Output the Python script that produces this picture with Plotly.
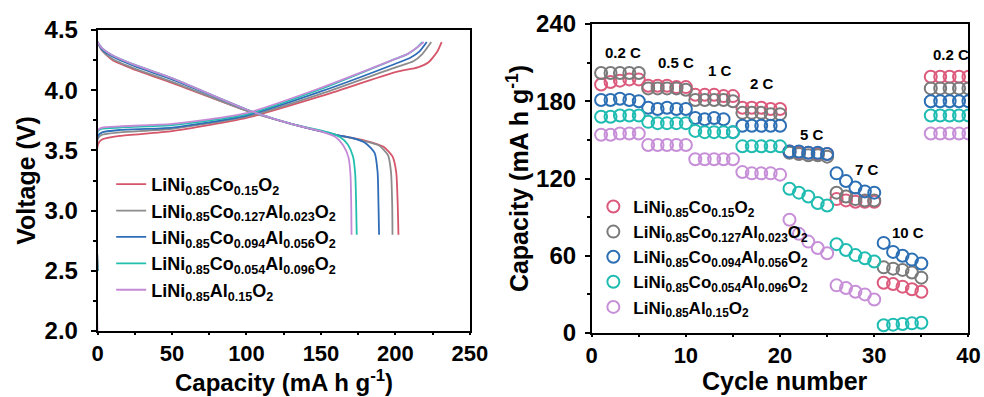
import plotly.graph_objects as go

# ---------------- data ----------------
names = [
    "LiNi<sub>0.85</sub>Co<sub>0.15</sub>O<sub>2</sub>",
    "LiNi<sub>0.85</sub>Co<sub>0.127</sub>Al<sub>0.023</sub>O<sub>2</sub>",
    "LiNi<sub>0.85</sub>Co<sub>0.094</sub>Al<sub>0.056</sub>O<sub>2</sub>",
    "LiNi<sub>0.85</sub>Co<sub>0.054</sub>Al<sub>0.096</sub>O<sub>2</sub>",
    "LiNi<sub>0.85</sub>Al<sub>0.15</sub>O<sub>2</sub>",
]
line_colors = ["#d5566a", "#8c8c8c", "#2f6db8", "#22bfae", "#c48ad6"]
marker_colors = ["#dc5a7c", "#7a7a7a", "#2c6fb4", "#1fbcb2", "#c78fd8"]

# charge curves (capacity, voltage)
charge_cap_red = [0, 0.3, 3, 15, 50, 100, 150, 200, 215, 222, 228, 231]
charge_v_red = [2.5, 3.55, 3.59, 3.62, 3.66, 3.77, 3.95, 4.15, 4.19, 4.23, 4.32, 4.40]
charge_cap_gray = [0, 0.3, 3, 15, 50, 100, 150, 200, 212, 218, 224]
charge_v_gray = [2.5, 3.60, 3.63, 3.65, 3.68, 3.78, 3.97, 4.19, 4.24, 4.30, 4.40]
charge_cap_blue = [0, 0.3, 3, 15, 50, 100, 150, 200, 210, 216, 221]
charge_v_blue = [2.5, 3.62, 3.65, 3.67, 3.69, 3.79, 3.99, 4.22, 4.27, 4.32, 4.40]
charge_cap_cyan = [0, 0.3, 3, 15, 50, 100, 150, 200, 208, 214, 218]
charge_v_cyan = [2.5, 3.66, 3.68, 3.69, 3.71, 3.80, 4.01, 4.26, 4.30, 4.35, 4.40]
charge_cap_purple = [0, 0.3, 3, 15, 50, 100, 150, 200, 208, 214, 219]
charge_v_purple = [2.0, 3.67, 3.69, 3.70, 3.72, 3.81, 4.02, 4.26, 4.30, 4.35, 4.40]

# discharge curves
dis_cap_red = [0, 3, 10, 25, 50, 100, 130, 160, 180, 192, 198, 200.5, 201.5, 202]
dis_v_red = [4.4, 4.33, 4.25, 4.17, 4.06, 3.83, 3.72, 3.63, 3.58, 3.53, 3.45, 3.32, 3.05, 2.8]
dis_cap_gray = [0, 3, 10, 25, 50, 100, 130, 160, 178, 189, 195, 197, 197.8, 198]
dis_v_gray = [4.4, 4.33, 4.26, 4.18, 4.07, 3.83, 3.72, 3.63, 3.58, 3.54, 3.46, 3.32, 3.05, 2.8]
dis_cap_blue = [0, 3, 10, 25, 50, 100, 130, 160, 172, 180, 186, 188, 188.6, 189]
dis_v_blue = [4.4, 4.34, 4.28, 4.20, 4.09, 3.84, 3.72, 3.63, 3.60, 3.56, 3.48, 3.32, 3.05, 2.8]
dis_cap_cyan = [0, 3, 10, 25, 50, 100, 130, 155, 163, 168, 171.5, 173, 173.6, 174]
dis_v_cyan = [4.4, 4.35, 4.29, 4.21, 4.10, 3.84, 3.72, 3.65, 3.61, 3.55, 3.45, 3.30, 3.05, 2.8]
dis_cap_purple = [0, 3, 10, 25, 50, 100, 130, 152, 160, 165, 168.5, 169.8, 170.3, 170.5]
dis_v_purple = [4.4, 4.35, 4.29, 4.21, 4.10, 3.84, 3.72, 3.65, 3.61, 3.54, 3.44, 3.30, 3.05, 2.8]

# rate capability
cycles = list(range(1, 41))
rate_red = [193, 195, 196, 197, 197, 192, 192, 192, 191, 191, 185, 185, 185, 184, 184,
            175, 175, 175, 174, 174, 141, 140, 140, 139, 139, 104, 103, 102, 102, 102,
            39, 38, 36, 34, 32, 199, 199, 199, 199, 199]
rate_gray = [202, 202, 202, 202, 202, 190, 190, 190, 190, 189, 181, 181, 181, 181, 180,
             171, 171, 171, 170, 170, 140, 139, 138, 138, 137, 109, 106, 104, 103, 103,
             51, 50, 49, 47, 43, 190, 190, 190, 190, 190]
rate_blue = [181, 181, 182, 181, 180, 175, 174, 175, 174, 174, 167, 166, 167, 166, 156,
             161, 161, 161, 161, 161, 141, 141, 140, 140, 139, 124, 118, 113, 110, 109,
             70, 63, 60, 57, 54, 180, 180, 180, 180, 180]
rate_cyan = [168, 168, 169, 169, 169, 164, 163, 163, 163, 163, 157, 156, 156, 156, 156,
             145, 145, 145, 145, 145, 112, 109, 106, 101, 99, 69, 64.5, 60.5, 58, 55.5,
             6, 6.5, 7, 7.5, 8, 169, 169, 169, 169, 169]
rate_purple = [154, 154, 155, 155, 155, 146, 146, 146, 146, 146, 135, 135, 135, 135, 135,
               125, 124, 124, 124, 123, 88, 77, 71, 66, 62, 37, 35, 32, 30, 26,
               None, None, None, None, None, 155, 155, 155, 155, 155]

rate_labels = ["0.2 C", "0.5 C", "1 C", "2 C", "5 C", "7 C", "10 C", "0.2 C"]
rate_label_x = [3.3, 8.9, 13.6, 18.1, 23.4, 29.2, 33.6, 38.2]
rate_label_y = [218, 210, 204, 194, 154, 127, 78, 216]

x_title_left = "Capacity (mA h g<sup>-1</sup>)"
x_title_right = "Cycle number"

charge_caps = [charge_cap_red, charge_cap_gray, charge_cap_blue, charge_cap_cyan, charge_cap_purple]
charge_vs = [charge_v_red, charge_v_gray, charge_v_blue, charge_v_cyan, charge_v_purple]
dis_caps = [dis_cap_red, dis_cap_gray, dis_cap_blue, dis_cap_cyan, dis_cap_purple]
dis_vs = [dis_v_red, dis_v_gray, dis_v_blue, dis_v_cyan, dis_v_purple]
rates = [rate_red, rate_gray, rate_blue, rate_cyan, rate_purple]

FONT = "Liberation Sans, Arial, sans-serif"

fig = go.Figure()

for i in range(5):
    fig.add_trace(go.Scatter(
        x=charge_caps[i], y=charge_vs[i], mode="lines", name=names[i],
        line=dict(color=line_colors[i], width=1.8, shape="spline", smoothing=0.6),
        xaxis="x", yaxis="y", legend="legend", legendgroup=f"l{i}", showlegend=True))
    fig.add_trace(go.Scatter(
        x=dis_caps[i], y=dis_vs[i], mode="lines", name=names[i],
        line=dict(color=line_colors[i], width=1.8, shape="spline", smoothing=0.6),
        xaxis="x", yaxis="y", legendgroup=f"l{i}", showlegend=False))

for i in range(5):
    fig.add_trace(go.Scatter(
        x=cycles, y=rates[i], mode="markers", name=names[i],
        marker=dict(symbol="circle-open", size=12, color=marker_colors[i],
                    line=dict(width=2, color=marker_colors[i])),
        xaxis="x2", yaxis="y2", legend="legend2", showlegend=True))

for t, xx, yy in zip(rate_labels, rate_label_x, rate_label_y):
    fig.add_annotation(x=xx, y=yy, xref="x2", yref="y2", text=t, showarrow=False,
                       font=dict(family=FONT, size=15, color="black", weight="bold"))

title_font = dict(family=FONT, size=25, color="black", weight="bold")
title_font_left_x = dict(family=FONT, size=24, color="black", weight="bold")

# x-axis titles placed as paper annotations centred under each panel
fig.add_annotation(x=0.2884, y=0, xref="paper", yref="paper", xanchor="center", yanchor="bottom",
                   yshift=-1, text=x_title_left, showarrow=False, font=title_font_left_x)
fig.add_annotation(x=0.7978, y=0, xref="paper", yref="paper", xanchor="center", yanchor="bottom",
                   text=x_title_right, showarrow=False, font=title_font)

axis_common = dict(showline=True, linecolor="black", linewidth=1.6, mirror=True,
                   ticks="outside", tickwidth=1.6, tickcolor="black",
                   showgrid=False, zeroline=False, automargin=False)
tick_font_y = dict(family=FONT, size=24, color="black", weight="bold")
tick_font_x = dict(family=FONT, size=22, color="black", weight="bold")

fig.update_layout(
    width=984, height=397,
    margin=dict(l=0, r=0, t=0, b=0),
    paper_bgcolor="white", plot_bgcolor="white",
    xaxis=dict(domain=[0.0991, 0.4776], range=[0, 250], dtick=50, anchor="y", ticklen=2,
               minor=dict(dtick=25, ticks="outside", ticklen=2, tickcolor="black", showgrid=False),
               ticklabelstandoff=0, tickfont=tick_font_x,
               **axis_common),
    yaxis=dict(domain=[0.1662, 0.9244], range=[2.0, 4.5], dtick=0.5, tickformat=".1f",
               anchor="x", ticklen=5,
               minor=dict(dtick=0.25, ticks="outside", ticklen=3, tickcolor="black", showgrid=False),
               title=dict(text="Voltage (V)", font=title_font, standoff=2),
               ticklabelstandoff=8, tickfont=tick_font_y,
               **axis_common),
    xaxis2=dict(domain=[0.6013, 0.9842], range=[0, 40], dtick=10, anchor="y2", ticklen=2,
                minor=dict(dtick=5, ticks="outside", ticklen=2, tickcolor="black", showgrid=False),
                ticklabelstandoff=0, tickfont=tick_font_x,
                **axis_common),
    yaxis2=dict(domain=[0.1612, 0.9395], range=[0, 240], dtick=60, anchor="x2", ticklen=5,
                minor=dict(dtick=30, ticks="outside", ticklen=3, tickcolor="black", showgrid=False),
                title=dict(text="Capacity (mA h g<sup>-1</sup>)", font=title_font, standoff=0),
                ticklabelstandoff=4, tickfont=tick_font_y,
                **axis_common),
    legend=dict(x=0.113, y=0.582, xanchor="left", yanchor="top", bgcolor="rgba(0,0,0,0)",
                font=dict(family=FONT, size=18, color="black", weight="bold"),
                tracegroupgap=0, itemwidth=30),
    legend2=dict(x=0.603, y=0.524, xanchor="left", yanchor="top", bgcolor="rgba(0,0,0,0)",
                 font=dict(family=FONT, size=17, color="black", weight="bold"),
                 itemsizing="constant"),
)

fig.write_html("out.html")
